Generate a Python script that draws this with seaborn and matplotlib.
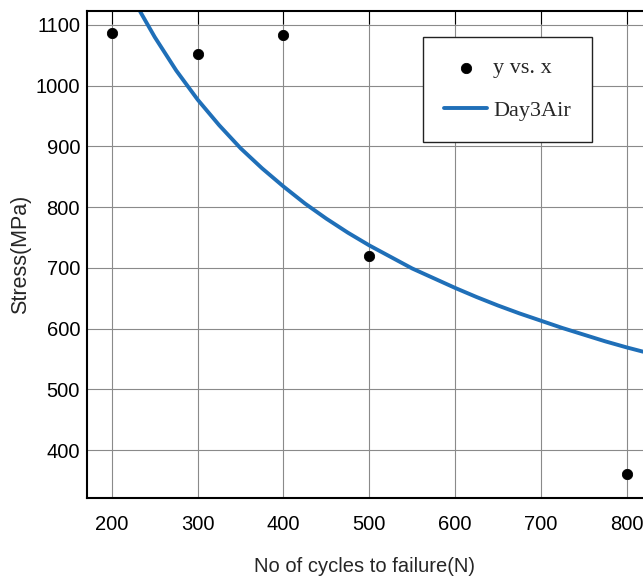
import numpy as np
import pandas as pd
import matplotlib
matplotlib.use("Agg")
import matplotlib.pyplot as plt
from matplotlib import font_manager
import seaborn as sns

# Pontos medidos
cycles = [200, 300, 400, 500, 800]
stress = [1087, 1052, 1083, 720, 361]

# Curva ajustada
fit_cycles = [233, 250, 275, 300, 325, 350, 375, 400, 425, 450, 475, 500, 525,
              550, 575, 600, 625, 650, 675, 700, 725, 750, 775, 800, 819]
fit_stress = [1122, 1080, 1025, 977, 935, 897, 864, 834, 806, 781, 758, 737, 718,
              699, 683, 667, 652, 638, 625, 613, 601, 590, 579, 569, 562]

x_ticks = [200, 300, 400, 500, 600, 700, 800]
y_ticks = [400, 500, 600, 700, 800, 900, 1000, 1100]

df_pts = pd.DataFrame({"x": cycles, "y": stress})
df_fit = pd.DataFrame({"x": fit_cycles, "y": fit_stress})

sns.set_style("white")

installed = {f.name for f in font_manager.fontManager.ttflist}
if "Liberation Sans Narrow" in installed:
    narrow, tick_size = ["Liberation Sans Narrow", "DejaVu Sans"], 16
else:
    narrow, tick_size = ["Liberation Sans", "DejaVu Sans"], 14.5

fig = plt.figure(figsize=(6.43, 5.83), dpi=100)
ax = fig.add_axes([0.1353, 0.1458, 0.8647, 0.8353])

sns.scatterplot(data=df_pts, x="x", y="y", ax=ax, color="black", s=55,
                edgecolor="black", marker="o", label="y vs. x", zorder=3)
sns.lineplot(data=df_fit, x="x", y="y", ax=ax, color="#1f6fb8", linewidth=2.8,
             label="Day3Air", zorder=2)

ax.set_xlim(171, 819)
ax.set_ylim(321, 1123)
ax.set_xticks(x_ticks)
ax.set_yticks(y_ticks)
ax.grid(True, color="#8a8a8a", linewidth=0.8)
ax.set_axisbelow(True)

for s in ["left", "bottom", "top"]:
    ax.spines[s].set_color("black")
    ax.spines[s].set_linewidth(1.5)
ax.spines["right"].set_visible(False)

ax.tick_params(axis="both", direction="in", length=9, width=0.8, top=True,
               colors="black", pad=5)
ax.tick_params(axis="x", pad=12)
for lab in ax.get_xticklabels() + ax.get_yticklabels():
    lab.set_family(narrow)
    lab.set_fontsize(tick_size)

ax.set_xlabel("No of cycles to failure(N)", family=narrow, fontsize=tick_size, labelpad=17)
ax.set_ylabel("Stress(MPa)", family=["Liberation Sans", "DejaVu Sans"], fontsize=15.5,
              labelpad=3)

leg = ax.legend(loc="upper left", bbox_to_anchor=(0.605, 0.947), frameon=True,
                fancybox=False, edgecolor="#222222", framealpha=1,
                prop={"family": "Liberation Serif", "size": 16},
                handlelength=1.9, borderpad=0.95, labelspacing=1.0, handletextpad=0.3,
                borderaxespad=0)
leg.get_frame().set_linewidth(1.0)

fig.savefig("out.png", dpi=100)
